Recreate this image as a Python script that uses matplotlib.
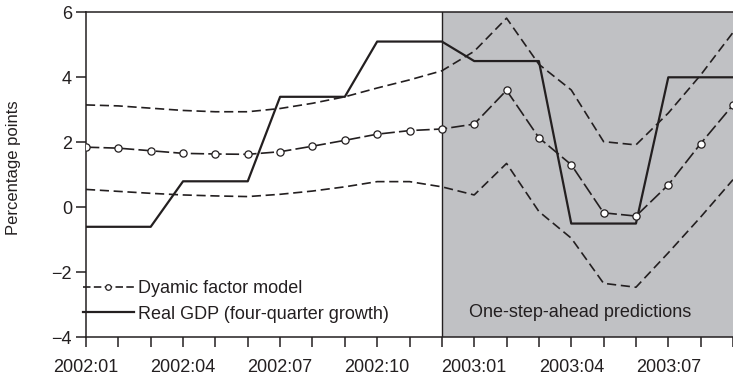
import matplotlib
matplotlib.use("Agg")
import matplotlib.pyplot as plt
from matplotlib.lines import Line2D

plt.rcParams['font.family'] = ['Liberation Sans', 'DejaVu Sans']

# Monthly observations, 2002:01 .. 2003:09
months = ["2002:01", "2002:02", "2002:03", "2002:04", "2002:05", "2002:06",
          "2002:07", "2002:08", "2002:09", "2002:10", "2002:11", "2002:12",
          "2003:01", "2003:02", "2003:03", "2003:04", "2003:05", "2003:06",
          "2003:07", "2003:08", "2003:09"]

dfm_forecast = [1.85, 1.82, 1.74, 1.66, 1.64, 1.63, 1.71, 1.88, 2.06, 2.25, 2.36,
                2.41, 2.56, 3.60, 2.14, 1.31, -0.17, -0.27, 0.69, 1.96, 3.15]
upper_band = [3.15, 3.12, 3.05, 2.98, 2.94, 2.94, 3.04, 3.20, 3.40, 3.67, 3.92,
              4.20, 4.80, 5.82, 4.40, 3.61, 2.02, 1.92, 2.90, 4.07, 5.38]
lower_band = [0.55, 0.49, 0.43, 0.38, 0.35, 0.33, 0.40, 0.50, 0.63, 0.79, 0.79,
              0.63, 0.38, 1.35, -0.13, -0.95, -2.34, -2.46, -1.40, -0.30, 0.85]
real_gdp = [-0.6, -0.6, -0.6, 0.8, 0.8, 0.8, 3.4, 3.4, 3.4, 5.1, 5.1,
            5.1, 4.5, 4.5, 4.5, -0.5, -0.5, -0.5, 4.0, 4.0, 4.0]

forecast_start = "2002:12"
yticks = [-4, -2, 0, 2, 4, 6]

ink = "#231f20"
shade = "#c0c1c4"
FS = 13

W, H = 733, 378
fig = plt.figure(figsize=(W / 100, H / 100), dpi=100)
ax = fig.add_axes([86 / W, (H - 337.3) / H, (W - 86) / W, (337.3 - 12.3) / H])

x = list(range(len(months)))
start = months.index(forecast_start)

ax.axvspan(start, len(months) + 1, color=shade, lw=0, zorder=0)
ax.axvline(start, color=ink, lw=1.0, zorder=1)

band_style = dict(color=ink, lw=1.2, linestyle=(0, (5.5, 2.8)), zorder=2)
ax.plot(x, upper_band, **band_style)
ax.plot(x, lower_band, **band_style)
ax.plot(x, real_gdp, color=ink, lw=1.6, zorder=3)
ax.plot(x, dfm_forecast, color=ink, lw=1.2, linestyle=(0, (8, 2.5)),
        marker="o", markersize=5.2, markerfacecolor="white",
        markeredgecolor=ink, markeredgewidth=0.9, zorder=4)

ax.set_xlim(0, 19.88)
ax.set_ylim(-4, 6)
ax.set_xticks(x)
ax.set_xticklabels([m if i % 3 == 0 else "" for i, m in enumerate(months)])
ax.set_yticks(yticks)

for side in ("left", "bottom", "top"):
    ax.spines[side].set_linewidth(1.1)
    ax.spines[side].set_color(ink)
ax.spines["right"].set_visible(False)

ax.tick_params(axis="both", direction="out", length=7.5, width=1.1,
               color=ink, labelcolor=ink, labelsize=FS)
ax.tick_params(axis="x", pad=8)
ax.tick_params(axis="y", pad=2.5)

ax.set_ylabel("Percentage points", fontsize=12, color=ink)
ax.yaxis.set_label_coords(-0.1, 0.522)

ax.text(15.27, -3.25, "One-step-ahead predictions", fontsize=FS, color=ink,
        ha="center", va="center")

handles = [
    Line2D([], [], color=ink, lw=1.2, linestyle=(0, (4.5, 2.0)), marker="o",
           markersize=4, markerfacecolor="white", markeredgecolor=ink,
           markeredgewidth=0.9),
    Line2D([], [], color=ink, lw=1.6),
]
leg = ax.legend(handles, ["Dyamic factor model", "Real GDP (four-quarter growth)"],
                loc="lower left", bbox_to_anchor=(-0.005, 0.045), frameon=False,
                fontsize=FS, handlelength=2.85, handletextpad=0.2,
                borderpad=0, borderaxespad=0, labelspacing=0.47)
for t in leg.get_texts():
    t.set_color(ink)

fig.savefig("out.png", dpi=100)
